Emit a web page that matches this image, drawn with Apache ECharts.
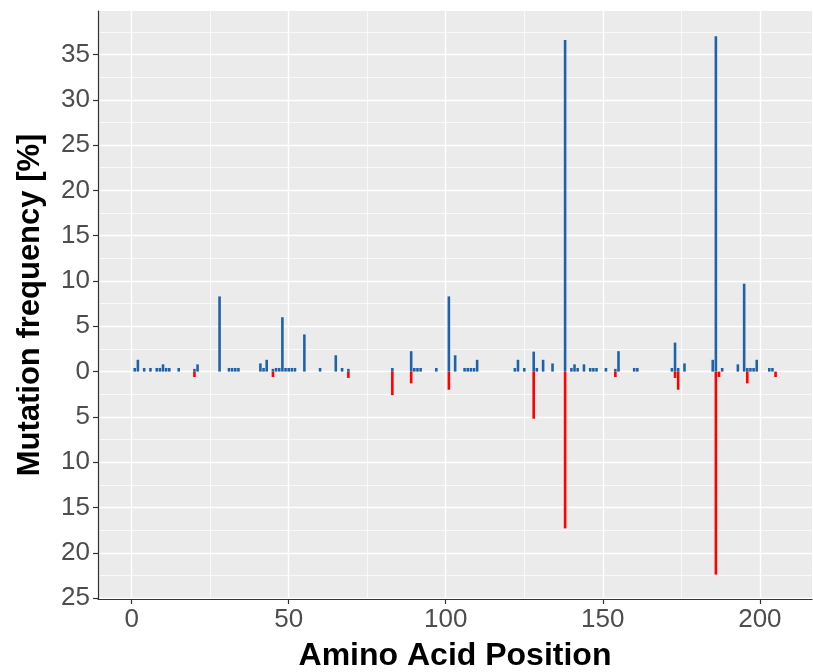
<!DOCTYPE html>
<html>
<head>
<meta charset="utf-8">
<script src="https://cdn.jsdelivr.net/npm/echarts@6/dist/echarts.min.js"></script>
<style>
  html, body { margin: 0; padding: 0; background: #fff; }
  #chart { width: 813px; height: 672px; }
</style>
</head>
<body>
<div id="chart"></div>
<script>
// positive (blue) bars: amino acid position -> frequency %
const bluePos = [1, 2, 4, 6, 8, 9, 10, 11, 12, 15, 20, 21, 28, 31, 32, 33, 34,
  41, 42, 43, 45, 46, 47, 48, 49, 50, 51, 52, 55, 60, 65, 67, 69, 83,
  89, 90, 91, 92, 97, 101, 103, 106, 107, 108, 109, 110, 122, 123, 125,
  128, 129, 131, 134, 138, 140, 141, 142, 144, 146, 147, 148, 151, 154, 155,
  160, 161, 172, 173, 174, 176, 185, 186, 188, 193, 195, 196, 197, 198, 199,
  203, 204];
const blueVal = [0.4, 1.3, 0.4, 0.4, 0.4, 0.4, 0.8, 0.4, 0.4, 0.4, 0.3, 0.8, 8.3, 0.4, 0.4, 0.4, 0.4,
  0.9, 0.4, 1.3, 0.3, 0.4, 0.4, 6.0, 0.4, 0.4, 0.4, 0.4, 4.1, 0.4, 1.8, 0.4, 0.3, 0.4,
  2.25, 0.4, 0.4, 0.4, 0.4, 8.3, 1.8, 0.4, 0.4, 0.4, 0.4, 1.3, 0.4, 1.3, 0.4,
  2.2, 0.4, 1.3, 0.9, 36.6, 0.4, 0.8, 0.4, 0.8, 0.4, 0.4, 0.4, 0.4, 0.3, 2.25,
  0.4, 0.4, 0.4, 3.2, 0.4, 0.9, 1.3, 37.0, 0.4, 0.8, 9.7, 0.4, 0.4, 0.4, 1.3,
  0.4, 0.4];

// negative (red) bars
const redPos = [20, 45, 69, 83, 89, 101, 128, 138, 154, 173, 174, 186, 187, 196, 205];
const redVal = [-0.6, -0.6, -0.7, -2.6, -1.3, -2.0, -5.2, -17.3, -0.6, -0.7, -2.0, -22.4, -0.6, -1.3, -0.6];

const xMajor = [0, 50, 100, 150, 200];
const xMinor = [25, 75, 125, 175];
const yMajor = [-25, -20, -15, -10, -5, 0, 5, 10, 15, 20, 25, 30, 35];
const yMinor = [-22.5, -17.5, -12.5, -7.5, -2.5, 2.5, 7.5, 12.5, 17.5, 22.5, 27.5, 32.5, 37.5];

const xMin = -10.7, xMax = 216.6;
const yMin = -25.1, yMax = 39.8;

const myChart = echarts.init(document.getElementById('chart'));

const labelStyle = { fontFamily: 'Liberation Sans', fontSize: 26, color: '#4d4d4d' };

const option = {
  animation: false,
  grid: {
    left: 98, right: 1, top: 11, bottom: 73,
    outerBoundsMode: 'none', containLabel: false,
    show: true, backgroundColor: '#ebebeb', borderWidth: 0
  },
  xAxis: [
    {
      type: 'value', min: xMin, max: xMax,
      name: 'Amino Acid Position', nameLocation: 'middle', nameGap: 41,
      nameTextStyle: { fontFamily: 'Liberation Sans', fontSize: 32, fontWeight: 'bold', color: '#000' },
      axisLine: { show: true, onZero: false, lineStyle: { color: '#333', width: 1.2 } },
      axisTick: { show: true, length: 5, customValues: xMajor, lineStyle: { color: '#333', width: 1.2 } },
      axisLabel: Object.assign({ customValues: xMajor, margin: 8 }, labelStyle),
      splitLine: { show: true, lineStyle: { color: '#fff', width: 1.4 } }
    },
    {
      type: 'value', min: xMin, max: xMax, position: 'bottom',
      axisLine: { show: false },
      axisTick: { show: false, customValues: xMinor },
      axisLabel: { show: false },
      splitLine: { show: true, lineStyle: { color: '#fff', width: 0.7 } }
    }
  ],
  yAxis: [
    {
      type: 'value', min: yMin, max: yMax,
      name: 'Mutation frequency [%]', nameLocation: 'middle', nameGap: 52,
      nameTextStyle: { fontFamily: 'Liberation Sans', fontSize: 31, fontWeight: 'bold', color: '#000' },
      axisLine: { show: true, onZero: false, lineStyle: { color: '#333', width: 1.2 } },
      axisTick: { show: true, length: 5, customValues: yMajor, lineStyle: { color: '#333', width: 1.2 } },
      axisLabel: Object.assign({
        customValues: yMajor, margin: 8,
        formatter: v => String(Math.abs(v))
      }, labelStyle),
      splitLine: { show: true, lineStyle: { color: '#fff', width: 1.4 } }
    },
    {
      type: 'value', min: yMin, max: yMax, position: 'left',
      axisLine: { show: false },
      axisTick: { show: false, customValues: yMinor },
      axisLabel: { show: false },
      splitLine: { show: true, lineStyle: { color: '#fff', width: 0.7 } }
    }
  ],
  series: [
    {
      name: 'positive', type: 'bar',
      xAxisIndex: 0, yAxisIndex: 0,
      barWidth: 2.6, barGap: '-100%',
      itemStyle: { color: '#1f62a8' },
      data: bluePos.map((p, i) => [p, blueVal[i]])
    },
    {
      name: 'negative', type: 'bar',
      xAxisIndex: 0, yAxisIndex: 0,
      barWidth: 2.6, barGap: '-100%',
      itemStyle: { color: '#ff0000' },
      data: redPos.map((p, i) => [p, redVal[i]])
    }
  ]
};

myChart.setOption(option);
</script>
</body>
</html>
